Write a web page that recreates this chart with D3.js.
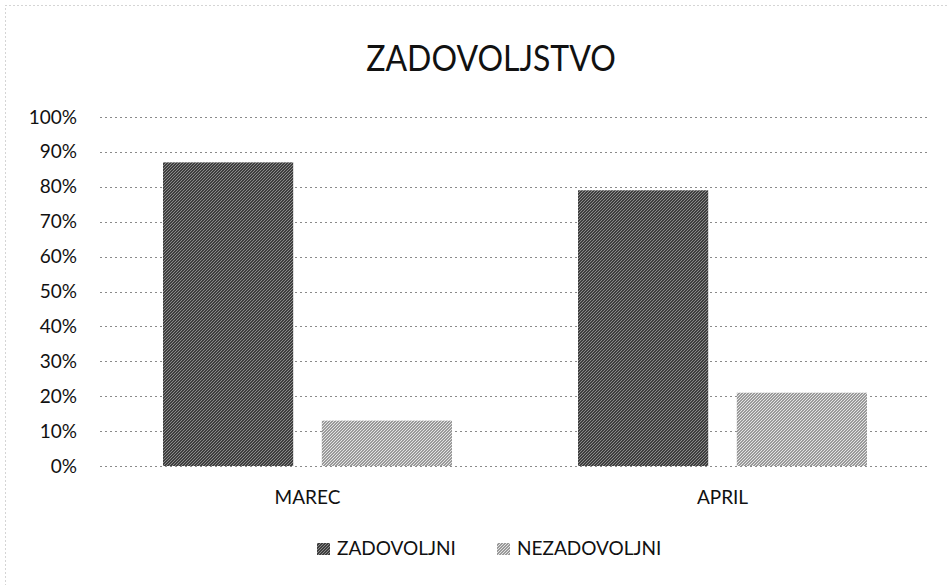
<!DOCTYPE html>
<html>
<head>
<meta charset="utf-8">
<script src="https://cdn.jsdelivr.net/npm/d3@7"></script>
<style>
  body { margin: 0; background: #fff; }
  svg { display: block; font-family: Lato, "Open Sans", sans-serif; }
</style>
</head>
<body>
<svg id="chart" width="947" height="585"></svg>
<script>
// podatki
var months = ['MAREC', 'APRIL'];
var seriesNames = ['ZADOVOLJNI', 'NEZADOVOLJNI'];
var zadovoljni = [0.87, 0.79];
var nezadovoljni = [0.13, 0.21];
var yTicks = [0, 0.1, 0.2, 0.3, 0.4, 0.5, 0.6, 0.7, 0.8, 0.9, 1.0];

var W = 947, H = 585;
var margin = {top: 117, right: 17, bottom: 119, left: 100};
var svg = d3.select('#chart');

// vzorci (skenirana tekstura)
var defs = svg.append('defs');
function checker(id, a, b) {
  var p = defs.append('pattern').attr('id', id)
    .attr('width', 3).attr('height', 3).attr('patternUnits', 'userSpaceOnUse');
  p.append('rect').attr('width', 3).attr('height', 3).attr('fill', a);
  p.append('rect').attr('width', 1).attr('height', 1).attr('fill', b);
  p.append('rect').attr('x', 2).attr('y', 1).attr('width', 1).attr('height', 1).attr('fill', b);
  p.append('rect').attr('x', 1).attr('y', 2).attr('width', 1).attr('height', 1).attr('fill', b);
}
checker('patDark', '#3e3e3e', '#8a8a8a');
checker('patLight', '#9a9a9a', '#e4e4e4');
var fills = ['url(#patDark)', 'url(#patLight)'];

// okvir
svg.append('rect').attr('x', 5.5).attr('y', 5.5).attr('width', W - 4).attr('height', H - 4)
  .attr('fill', 'none').attr('stroke', '#aaa').attr('stroke-dasharray', '1,3');

var w = W - margin.left - margin.right;
var h = H - margin.top - margin.bottom;
var g = svg.append('g').attr('transform', 'translate(' + margin.left + ',' + margin.top + ')');

var y = d3.scaleLinear().domain([0, 1]).range([h, 0]);
var x0 = d3.scaleBand().domain(months).range([0, w]).paddingInner(0).paddingOuter(0);
var x1 = d3.scaleBand().domain(seriesNames).range([63, x0.bandwidth() - 63]).paddingInner(0.18);

// mreža
g.append('g').selectAll('line').data(yTicks).enter().append('line')
  .attr('x1', 0).attr('x2', w)
  .attr('y1', function(d) { return Math.round(y(d)) + 0.5; })
  .attr('y2', function(d) { return Math.round(y(d)) + 0.5; })
  .attr('stroke', '#8a8a8a').attr('stroke-width', 1).attr('stroke-dasharray', '2,3');

// os y
var yAxis = d3.axisLeft(y).tickValues(yTicks).tickFormat(d3.format('.0%')).tickSize(0).tickPadding(23);
g.append('g').call(yAxis)
  .call(function(s) { s.select('.domain').remove(); })
  .selectAll('text').attr('font-size', 19).attr('fill', '#111')
  .attr('font-family', 'Lato, sans-serif');

// stolpci
var rows = months.map(function(m, i) { return {month: m, vals: [zadovoljni[i], nezadovoljni[i]]}; });
var grp = g.selectAll('.cat').data(rows).enter().append('g')
  .attr('transform', function(d) { return 'translate(' + x0(d.month) + ',0)'; });
grp.selectAll('rect').data(function(d) {
  return d.vals.map(function(v, j) { return {name: seriesNames[j], v: v, j: j}; });
}).enter().append('rect')
  .attr('x', function(d) { return x1(d.name); })
  .attr('y', function(d) { return y(d.v); })
  .attr('width', x1.bandwidth())
  .attr('height', function(d) { return h - y(d.v); })
  .attr('fill', function(d) { return fills[d.j]; });

// os x
var xAxis = d3.axisBottom(x0).tickSize(0).tickPadding(25);
g.append('g').attr('transform', 'translate(0,' + h + ')').call(xAxis)
  .call(function(s) { s.select('.domain').remove(); })
  .selectAll('text').attr('font-size', 19).attr('fill', '#111')
  .attr('font-family', 'Lato, sans-serif');

// naslov
svg.append('text').attr('transform', 'translate(491,71) scale(1,1.15)')
  .attr('text-anchor', 'middle')
  .attr('font-size', 32).attr('fill', '#111').text('ZADOVOLJSTVO');

// legenda
var legX = [317, 497];
var leg = svg.append('g').selectAll('g').data(seriesNames).enter().append('g')
  .attr('transform', function(d, i) { return 'translate(' + legX[i] + ',555)'; });
leg.append('rect').attr('x', 0).attr('y', -12).attr('width', 13).attr('height', 12)
  .attr('fill', function(d, i) { return fills[i]; });
leg.append('text').attr('x', 20).attr('y', 0).attr('font-size', 19).attr('fill', '#111')
  .text(function(d) { return d; });
</script>
</body>
</html>
